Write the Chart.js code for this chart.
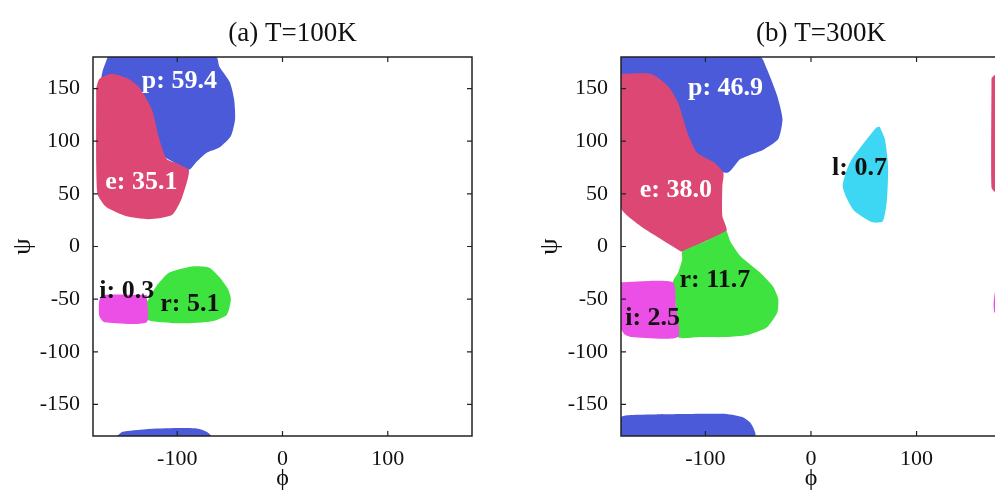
<!DOCTYPE html>
<html>
<head>
<meta charset="utf-8">
<script src="https://cdn.jsdelivr.net/npm/chart.js@4/dist/chart.umd.min.js"></script>
<style>
  html, body { margin: 0; padding: 0; background: #fff; overflow: hidden; width: 995px; height: 493px; }
  canvas { position: absolute; top: 0; }
  #panelA { left: 0; }
  #panelB { left: 500px; }
</style>
</head>
<body>
<canvas id="panelA" width="500" height="493"></canvas>
<canvas id="panelB" width="520" height="493"></canvas>
<script>
// axis ticks
const phiTicks = [-100, 0, 100];
const psiTicks = [-150, -100, -50, 0, 50, 100, 150];

// region colours
const regionColors = { p: '#4a5ad8', e: '#dc4873', r: '#3fe33f', i: '#eb4fe6', l: '#3ed7f3' };

// (a) T=100K : region outlines as [phi, psi]
const a_p = [[-166, 180], [-63, 180], [-60, 171], [-50, 156], [-46, 140], [-45, 121], [-49, 105], [-60, 94],
  [-72, 89], [-82, 80], [-89, 73], [-120, 90], [-160, 120], [-173, 150], [-171, 166], [-166, 180]];
const a_e = [[-177, 150], [-174, 159], [-162, 164], [-146, 159], [-136, 151], [-124, 130], [-117, 102], [-110, 83],
  [-98, 78], [-89, 73], [-90, 64], [-96, 45], [-105, 30], [-127, 26], [-149, 29], [-168, 38], [-176, 51], [-177, 150]];
const a_r = [[-129, -53], [-120, -38], [-108, -25], [-86, -19], [-70, -20], [-60, -29], [-52, -40], [-49, -50],
  [-53, -65], [-67, -71], [-95, -73], [-124, -71], [-129, -69], [-129, -53]];
const a_i = [[-129, -46], [-170, -46], [-174, -51], [-174, -66], [-169, -72], [-129, -72], [-129, -46]];
const a_p2 = [[-157, -180], [-152, -176], [-130, -173.5], [-100, -172.5], [-80, -173], [-72, -176], [-68, -180], [-157, -180]];

// (b) T=300K
const b_p = [[-180, 180], [-48, 180], [-42, 169], [-32, 143], [-27, 121], [-31, 102], [-45, 92], [-67, 83],
  [-79, 70], [-110, 80], [-150, 110], [-180, 130], [-180, 180]];
const b_e = [[-180, 164], [-152, 164], [-136, 153], [-126, 137], [-117, 108], [-108, 89], [-92, 80], [-83, 70],
  [-84, 57], [-84, 29], [-80, 15], [-100, 5], [-122, -5], [-126, -3], [-142, 7], [-161, 19], [-180, 37], [-180, 164]];
const b_r = [[-80, 15], [-76, 4], [-67, -9], [-48, -25], [-36, -38], [-31, -50], [-32, -63], [-42, -77], [-60, -84],
  [-80, -86], [-105, -86], [-126, -86], [-128, -57], [-131, -34], [-126, -25], [-122, -12], [-122, -5], [-100, 5], [-80, 15]];
const b_i = [[-180, -34], [-131, -34], [-128, -57], [-126, -86], [-170, -86], [-177, -83], [-180, -78], [-180, -34]];
const b_l = [[65, 114], [70, 102], [73, 76], [72, 45], [68, 24], [58, 23], [40, 35], [30, 57], [37, 80], [53, 102],
  [62, 113], [65, 114]];
const b_p2 = [[-180, -180], [-180, -162], [-170, -160], [-120, -159], [-80, -159], [-65, -162], [-57, -168], [-53, -180], [-180, -180]];
const b_e2 = [[171, 160], [174, 163], [180, 163], [180, 52], [174, 52], [171, 56], [171, 160]];
const b_i2 = [[174, -44], [180, -44], [180, -63], [174, -63], [173, -55], [174, -44]];

// population labels
const labelsA = [
  { text: 'p: 59.4', phi: -98, psi: 157, color: '#fff' },
  { text: 'e: 35.1', phi: -134, psi: 61, color: '#fff' },
  { text: 'i: 0.3', phi: -148, psi: -43, color: '#111' },
  { text: 'r: 5.1', phi: -88, psi: -55, color: '#111' }
];
const labelsB = [
  { text: 'p: 46.9', phi: -81, psi: 150, color: '#fff' },
  { text: 'e: 38.0', phi: -128, psi: 53, color: '#fff' },
  { text: 'l: 0.7', phi: 46, psi: 74, color: '#111' },
  { text: 'r: 11.7', phi: -91, psi: -32, color: '#111' },
  { text: 'i: 2.5', phi: -150, psi: -68, color: '#111' }
];

const serif = 'Liberation Serif';

function region(points, key) {
  return {
    data: points.map(([x, y]) => ({ x, y })),
    showLine: true,
    fill: 'shape',
    backgroundColor: regionColors[key],
    borderWidth: 0,
    pointRadius: 0,
    tension: 0.2
  };
}

const decor = {
  id: 'decor',
  afterDatasetsDraw(chart, args, opts) {
    const { ctx, chartArea: a, scales: { x, y } } = chart;
    ctx.save();
    ctx.strokeStyle = '#222';
    ctx.lineWidth = 1.2;
    ctx.beginPath();
    phiTicks.forEach(v => {
      const px = x.getPixelForValue(v);
      ctx.moveTo(px, a.bottom); ctx.lineTo(px, a.bottom - 5);
      ctx.moveTo(px, a.top); ctx.lineTo(px, a.top + 5);
    });
    psiTicks.forEach(v => {
      const py = y.getPixelForValue(v);
      ctx.moveTo(a.left, py); ctx.lineTo(a.left + 5, py);
      ctx.moveTo(a.right, py); ctx.lineTo(a.right - 5, py);
    });
    ctx.stroke();
    ctx.lineWidth = 1.5;
    ctx.strokeRect(a.left, a.top, a.right - a.left, a.bottom - a.top);

    ctx.textAlign = 'center';
    ctx.textBaseline = 'middle';
    ctx.font = 'bold 26px "' + serif + '"';
    opts.labels.forEach(l => {
      ctx.fillStyle = l.color;
      ctx.fillText(l.text, x.getPixelForValue(l.phi), y.getPixelForValue(l.psi));
    });
    ctx.fillStyle = '#111';
    ctx.font = '27px "' + serif + '"';
    ctx.fillText(opts.title, (a.left + a.right) / 2 + 10, 34);
    ctx.restore();
  }
};

function makePanel(id, datasets, labels, title, yWidth, yTitlePad, rightPad) {
  // first region in the list sits at the bottom
  datasets.forEach((ds, i) => { ds.order = datasets.length - i; });
  new Chart(document.getElementById(id), {
    type: 'scatter',
    data: { datasets },
    plugins: [decor],
    options: {
      responsive: false,
      animation: false,
      events: [],
      layout: { padding: { top: 57, right: rightPad, bottom: 0, left: 0 } },
      plugins: {
        legend: { display: false },
        tooltip: { enabled: false },
        decor: { labels, title }
      },
      scales: {
        x: {
          type: 'linear', min: -180, max: 180,
          afterBuildTicks: s => { s.ticks = phiTicks.map(v => ({ value: v })); },
          afterFit: s => { s.height = 57; },
          grid: { display: false },
          border: { display: false },
          ticks: { font: { family: serif, size: 22 }, color: '#111', padding: 2, maxRotation: 0 },
          title: { display: true, text: 'ϕ', font: { family: serif, size: 24 }, color: '#111', padding: 0 }
        },
        y: {
          type: 'linear', min: -180, max: 180,
          afterBuildTicks: s => { s.ticks = psiTicks.map(v => ({ value: v })); },
          afterFit: s => { s.width = yWidth; },
          grid: { display: false },
          border: { display: false },
          ticks: { font: { family: serif, size: 22 }, color: '#111', padding: 5 },
          title: { display: true, text: 'ψ', font: { family: serif, size: 26 }, color: '#111', padding: { top: yTitlePad, bottom: 0 } }
        }
      }
    }
  });
}

makePanel('panelA', [
  region(a_p, 'p'), region(a_e, 'e'), region(a_r, 'r'), region(a_i, 'i'), region(a_p2, 'p')
], labelsA, '(a) T=100K', 93, 8, 28);

makePanel('panelB', [
  region(b_p, 'p'), region(b_e, 'e'), region(b_r, 'r'), region(b_i, 'i'), region(b_l, 'l'),
  region(b_p2, 'p'), region(b_e2, 'e'), region(b_i2, 'i')
], labelsB, '(b) T=300K', 121, 35, 19);
</script>
</body>
</html>
